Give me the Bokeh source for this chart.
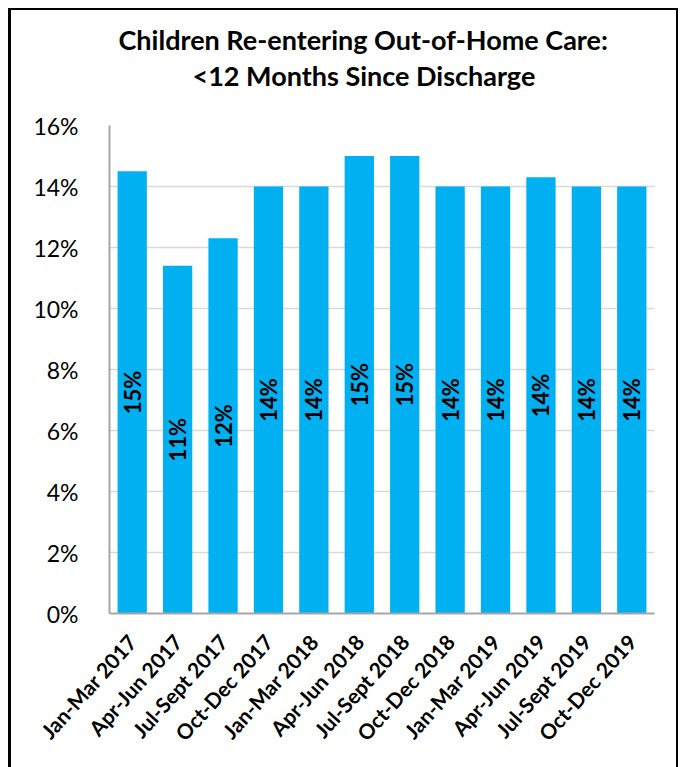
import math
from bokeh.plotting import figure
from bokeh.models import FactorRange, Range1d, FixedTicker, Title, ColumnDataSource
from bokeh.embed import file_html
from bokeh.resources import INLINE
from bokeh.core.properties import value

periods = ["Jan-Mar 2017", "Apr-Jun 2017", "Jul-Sept 2017", "Oct-Dec 2017",
           "Jan-Mar 2018", "Apr-Jun 2018", "Jul-Sept 2018", "Oct-Dec 2018",
           "Jan-Mar 2019", "Apr-Jun 2019", "Jul-Sept 2019", "Oct-Dec 2019"]
rates = [14.5, 11.4, 12.3, 14.0, 14.0, 15.0, 15.0, 14.0, 14.0, 14.3, 14.0, 14.0]
rate_labels = ["15%", "11%", "12%", "14%", "14%", "15%", "15%", "14%", "14%", "14%", "14%", "14%"]
y_ticks = [0, 2, 4, 6, 8, 10, 12, 14, 16]
y_tick_labels = ["0%", "2%", "4%", "6%", "8%", "10%", "12%", "14%", "16%"]
title_line1 = "Children Re-entering Out-of-Home Care:"
title_line2 = "<12 Months Since Discharge"

FONT = "Lato"
BAR = "#00B0F0"

src = ColumnDataSource(dict(period=periods, rate=rates, label=rate_labels,
                            mid=[r / 2 for r in rates]))

p = figure(x_range=FactorRange(*periods), y_range=Range1d(0, 16),
           width=670, height=759, output_backend="svg", toolbar_location=None,
           title=title_line1,
           min_border_left=101, min_border_right=24,
           min_border_top=117, min_border_bottom=154)

p.border_fill_color = None
p.styles = {"box-shadow": "inset 3px 2px 0 0 #000000, inset -2px 0 0 0 #000000",
            "background-color": "white", "margin-left": "8px", "margin-top": "8px"}

# outermost title line
p.title.align = "left"
p.title.offset = 9
p.title.standoff = 1
p.title.text_color = "black"
p.title.text_font = FONT
p.title.text_font_style = "bold"
p.title.text_font_size = "27px"

# spacer between second title line and the plot frame (closest to frame)
spacer = Title(text=" ", text_font_size="1px", standoff=31)
p.add_layout(spacer, "above")
t2 = Title(text=title_line2, align="left", offset=83, standoff=0, text_color="black",
           text_font=FONT, text_font_style="bold", text_font_size="27px")
p.add_layout(t2, "above")

p.vbar(x="period", top="rate", width=0.645, source=src, fill_color=BAR, line_color=None)
p.text(x="period", y="mid", text="label", angle=math.pi / 2, text_align="center",
       text_baseline="middle", text_font=value(FONT), text_font_style="bold",
       text_font_size="22px", text_color="black", source=src)

p.outline_line_color = None
p.xgrid.grid_line_color = None
p.ygrid.grid_line_color = "#d9d9d9"
p.ygrid.grid_line_width = 1.5
p.yaxis.ticker = FixedTicker(ticks=y_ticks)
p.yaxis.major_label_overrides = {t: l for t, l in zip(y_ticks, y_tick_labels)}

for ax in (p.xaxis, p.yaxis):
    ax.axis_line_color = "#a6a6a6"
    ax.axis_line_width = 2
    ax.major_tick_line_color = None
    ax.minor_tick_line_color = None
    ax.major_label_text_font = FONT
    ax.major_label_text_color = "black"

p.yaxis.major_label_text_font_size = "23px"
p.yaxis.major_label_standoff = 25
p.xaxis.major_label_text_font_size = "21px"
p.xaxis.major_label_text_font_style = "bold"
p.xaxis.major_label_orientation = math.radians(48)
p.xaxis.major_label_standoff = 18

open("out.html", "w").write(file_html(p, INLINE))
